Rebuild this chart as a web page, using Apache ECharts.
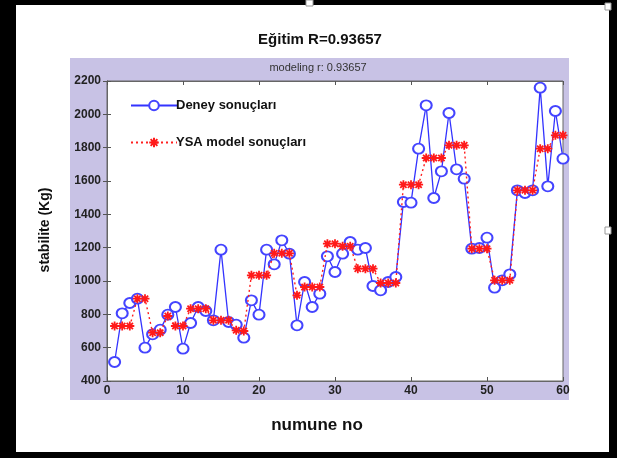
<!DOCTYPE html>
<html><head><meta charset="utf-8">
<script src="https://cdn.jsdelivr.net/npm/echarts@6/dist/echarts.min.js"></script>
<style>html,body{margin:0;padding:0;background:#000;}#c{width:617px;height:458px;}</style>
</head><body><div id="c"></div>
<script>
const xValues = [1,2,3,4,5,6,7,8,9,10,11,12,13,14,15,16,17,18,19,20,21,22,23,24,25,26,27,28,29,30,31,32,33,34,35,36,37,38,39,40,41,42,43,44,45,46,47,48,49,50,51,52,53,54,55,56,57,58,59,60];
const deney = [514,806,868,894,600,680,708,798,844,594,748,844,820,764,1188,754,738,660,884,798,1188,1100,1244,1164,734,994,844,924,1148,1054,1164,1234,1188,1198,970,944,994,1024,1474,1470,1794,2054,1498,1658,2008,1670,1614,1194,1198,1260,960,1004,1040,1544,1528,1544,2160,1568,2020,1734];
const ysa = [730,730,730,894,894,690,690,790,730,730,834,834,834,764,764,764,704,700,1034,1034,1034,1166,1166,1166,914,964,964,964,1224,1224,1208,1208,1074,1074,1074,988,988,988,1578,1578,1578,1738,1738,1738,1814,1814,1814,1194,1194,1194,1004,1004,1004,1544,1544,1544,1794,1794,1874,1874];
const xTicks = [0,10,20,30,40,50,60];
const yTicks = [400,600,800,1000,1200,1400,1600,1800,2000,2200];
const seriesNames = ['Deney sonuçları','YSA model sonuçları'];
const titleText = 'Eğitim R=0.93657';
const subTitleText = 'modeling r: 0.93657';
const xName = 'numune no';
const yName = 'stabilite (Kg)';

const FN = '"Liberation Sans Narrow", "Liberation Sans", Arial, sans-serif';
const FB = '"Liberation Sans", Arial, sans-serif';
const starPath = 'path://M0,-6L0,6M-6,0L6,0M-4.2,-4.2L4.2,4.2M-4.2,4.2L4.2,-4.2';

const chart = echarts.init(document.getElementById('c'), null, {renderer:'canvas'});
const axisCommon = {
  type:'value',
  axisLine:{show:true, lineStyle:{color:'#666', width:1}},
  axisTick:{show:true, inside:true, length:4, lineStyle:{color:'#555'}},
  splitLine:{show:false}
};
chart.setOption({
  backgroundColor:'#000',
  animation:false,
  graphic:[
    {type:'rect', shape:{x:16, y:5, width:593, height:447}, style:{fill:'#fff'}, z:-10, silent:true},
    {type:'rect', shape:{x:70, y:58, width:499, height:342}, style:{fill:'#c8c2e5'}, z:-9, silent:true},
    {type:'rect', shape:{x:306, y:0, width:7, height:6}, style:{fill:'#fff', stroke:'#999', lineWidth:1}, z:-8, silent:true},
    {type:'rect', shape:{x:605, y:3, width:6, height:7}, style:{fill:'#fff', stroke:'#999', lineWidth:1}, z:-8, silent:true},
    {type:'rect', shape:{x:605, y:227, width:6, height:7}, style:{fill:'#fff', stroke:'#999', lineWidth:1}, z:-8, silent:true},
    {type:'text', x:320, y:40, style:{text:titleText, font:'bold 15px '+FN, fill:'#111', align:'center', verticalAlign:'middle'}},
    {type:'text', x:318, y:68, style:{text:subTitleText, font:'11px '+FB, fill:'#333', align:'center', verticalAlign:'middle'}},
    {type:'text', x:317, y:425, style:{text:xName, font:'bold 17px '+FB, fill:'#111', align:'center', verticalAlign:'middle'}},
    {type:'text', x:45, y:230, rotation:Math.PI/2, style:{text:yName, font:'bold 14px '+FB, fill:'#111', align:'center', verticalAlign:'middle'}}
  ],
  grid:{left:107, top:81, width:456, height:300, show:true, backgroundColor:'#fff', borderColor:'#666', borderWidth:1},
  legend:{
    orient:'vertical', left:125, top:94, itemGap:24, itemWidth:46, itemHeight:12,
    textStyle:{fontFamily:FN, fontWeight:'bold', fontSize:13, color:'#111', padding:[0,0,0,-6]},
    data:[seriesNames[0], seriesNames[1]]
  },
  xAxis:[
    Object.assign({}, axisCommon, {min:0, max:60, interval:10, position:'bottom',
      axisLabel:{color:'#222', fontFamily:FB, fontWeight:'bold', fontSize:12, margin:4,
        formatter:v=>xTicks.includes(v)?String(v):''}}),
    Object.assign({}, axisCommon, {min:0, max:60, interval:10, position:'top', axisLabel:{show:false}})
  ],
  yAxis:[
    Object.assign({}, axisCommon, {min:400, max:2200, interval:200, position:'left',
      axisLabel:{color:'#222', fontFamily:FB, fontWeight:'bold', fontSize:12, margin:6,
        formatter:v=>yTicks.includes(v)?String(v):''}}),
    Object.assign({}, axisCommon, {min:400, max:2200, interval:200, position:'right', axisLabel:{show:false}})
  ],
  series:[
    {
      name:seriesNames[0], type:'line', xAxisIndex:0, yAxisIndex:0,
      data:xValues.map((x,i)=>[x, deney[i]]),
      symbol:'emptyCircle', symbolSize:[11,10], showAllSymbol:true,
      lineStyle:{color:'#3333ff', width:1.3},
      itemStyle:{color:'#4444ff', borderColor:'#4444ff', borderWidth:1},
      z:3
    },
    {
      name:seriesNames[1], type:'line', xAxisIndex:0, yAxisIndex:0,
      data:xValues.map((x,i)=>[x, ysa[i]]),
      symbol:starPath, symbolSize:9, showAllSymbol:true,
      lineStyle:{color:'#ff2020', width:1.4, type:[2,3]},
      itemStyle:{color:'#ff1a1a', borderColor:'#ff1a1a', borderWidth:1.8},
      z:4
    }
  ]
});
</script></body></html>
